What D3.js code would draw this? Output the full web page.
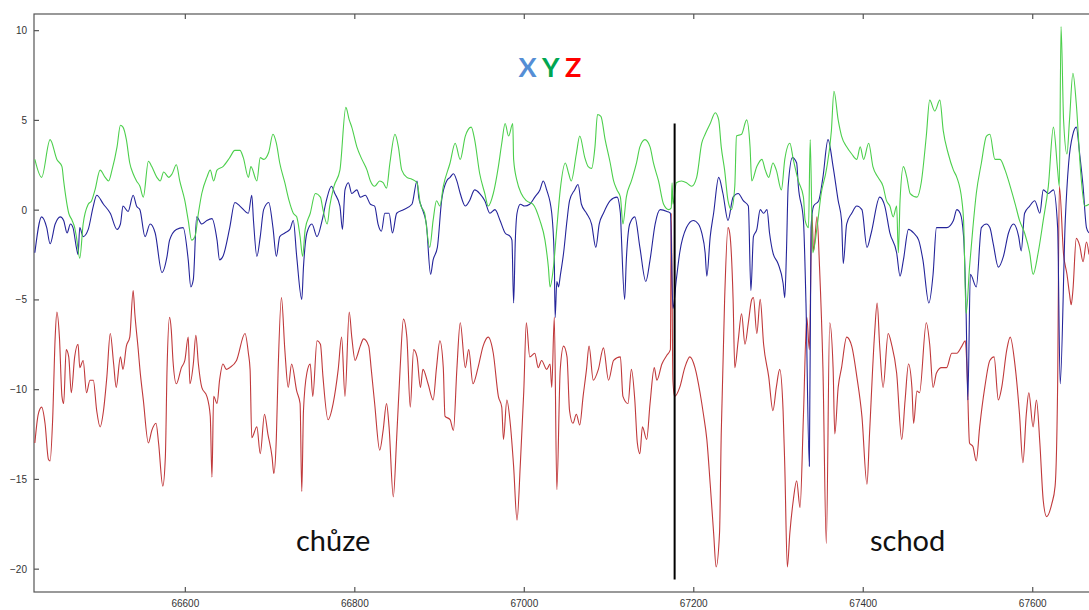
<!DOCTYPE html>
<html>
<head>
<meta charset="utf-8">
<script src="https://cdn.jsdelivr.net/npm/d3@7"></script>
<style>
  body { margin: 0; background: #fff; }
  svg { display: block; }
</style>
</head>
<body>
<div id="chart"></div>
<script>
// accelerometer samples [time, value]
var seriesY = [
  [66423,2.8],[66431,1.8],[66441,3.9],[66449,2.8],[66455,2.4],[66457,1.6],[66463,-0.2],[66467,-0.6],[66470,-1.0],[66472,-1.5],[66476,-2.7],[66480,-0.8],[66486,0.3],[66490,0.5],[66494,1.1],[66500,2.2],[66506,1.8],[66510,1.6],[66514,2.2],[66520,3.5],[66524,4.7],[66527,4.6],[66531,3.9],[66535,2.6],[66539,2.0],[66543,1.6],[66547,1.3],[66551,0.7],[66557,2.7],[66561,2.4],[66567,1.8],[66571,1.6],[66575,2.1],[66581,1.8],[66585,2.0],[66590,2.5],[66594,1.6],[66600,0.5],[66604,-0.6],[66608,-1.7],[66612,-1.5],[66616,-0.2],[66620,0.9],[66626,1.8],[66630,2.2],[66634,1.6],[66638,2.2],[66645,2.4],[66653,2.9],[66659,3.3],[66665,3.3],[66669,2.9],[66675,1.8],[66678,2.4],[66685,1.6],[66689,2.9],[66693,2.8],[66699,3.2],[66704,4.2],[66708,3.7],[66712,2.6],[66718,1.5],[66723,0.5],[66728,-0.2],[66732,-0.4],[66736,-1.5],[66739,-2.6],[66742,-1.1],[66748,-0.2],[66754,0.9],[66760,0.7],[66763,0.0],[66768,-0.8],[66771,0.2],[66776,1.3],[66783,2.2],[66790,5.7],[66794,5.0],[66797,4.6],[66803,3.5],[66809,2.8],
  [66815,2.2],[66819,1.6],[66824,1.3],[66830,1.6],[66834,1.5],[66838,1.2],[66842,2.6],[66848,4.2],[66852,3.5],[66856,2.2],[66862,1.8],[66868,1.7],[66874,1.5],[66878,0.3],[66883,-0.2],[66889,-2.1],[66893,-0.6],[66897,0.5],[66901,0.2],[66905,1.3],[66913,2.6],[66919,3.7],[66925,2.8],[66931,4.1],[66938,4.6],[66942,3.9],[66948,2.0],[66954,0.9],[66958,0.2],[66964,0.9],[66970,2.4],[66974,3.7],[66978,4.8],[66982,4.1],[66987,4.8],[66988,2.8],[66992,1.6],[66997,0.9],[67003,0.5],[67011,0.3],[67019,-0.6],[67025,-1.7],[67029,-3.2],[67031,-4.3],[67035,-3.2],[67039,-1.0],[67043,1.1],[67049,2.6],[67053,2.0],[67056,1.6],[67062,3.1],[67066,4.1],[67072,2.9],[67076,2.4],[67080,2.3],[67084,3.5],[67087,5.3],[67091,5.2],[67096,3.9],[67102,2.6],[67106,1.6],[67110,1.1],[67114,0.7],[67117,-0.8],[67121,0.7],[67127,1.6],[67133,2.6],[67137,3.5],[67143,3.9],[67149,3.5],[67153,2.6],[67159,1.6],[67165,0.3],[67171,0.0],[67174,0.1],[67175,1.5],[67176,0.3],[67180,1.5],[67186,1.6],[67192,1.5],[67198,1.3],[67204,1.8],[67210,3.7],[67214,4.2],[67220,4.8],[67226,5.4],[67230,5.0],[67233,3.5],[67237,2.2],[67241,0.5],[67245,0.0],[67249,1.3],[67251,4.1],[67257,4.2],[67263,5.0],[67267,3.5],[67269,1.6],[67275,2.4],[67281,2.8],[67285,2.2],[67289,1.8],[67294,2.6],[67298,2.2],[67304,1.1],[67308,2.8],[67314,3.7],[67318,2.8],[67324,1.6],[67330,0.7],[67332,-0.6],[67336,-1.0],[67338,3.9],[67341,-2.4],[67346,-1.0],[67351,0.9],[67357,2.2],[67363,4.4],[67366,6.6],[67371,5.0],[67375,4.1],[67381,3.5],[67387,3.1],[67393,2.8],[67397,3.5],[67401,2.8],[67407,3.7],[67412,2.4],[67418,1.8],[67424,1.3],[67428,0.5],[67432,0.2],[67436,-0.4],[67440,0.2],[67442,-2.4],[67444,0.5],[67448,2.4],[67452,1.8],[67456,0.9],[67464,0.7],[67469,1.5],[67475,4.1],[67479,6.1],[67485,5.5],[67491,6.1],[67495,4.4],[67501,3.1],[67507,2.2],[67511,1.8],[67517,0.5],[67519,-0.6],[67522,-5.8],[67526,-3.2],[67530,-1.0],[67534,0.9],[67540,2.6],[67546,4.1],[67550,4.2],[67556,2.8],[67562,2.8],[67568,2.2],[67574,1.3],[67580,0.3],[67585,-0.6],[67591,-1.3],[67597,-2.4],[67601,-3.6],[67607,-2.4],[67613,-0.6],[67619,1.3],[67625,4.6],[67630,2.2],[67632,1.3],[67634,10.2],[67637,5.0],[67641,3.1],[67644,5.0],[67648,7.6],[67652,5.9],[67657,2.2],[67662,0.2],[67667,0.3]
];

var seriesX = [
  [66423,-2.4],[66431,-0.4],[66437,-1.0],[66441,-1.9],[66447,-0.8],[66453,-0.4],[66457,-0.6],[66461,-1.3],[66465,-0.8],[66468,-1.0],[66472,-2.1],[66474,-2.5],[66476,-1.0],[66480,-1.5],[66486,-1.1],[66492,0.2],[66496,0.8],[66504,0.3],[66512,-0.2],[66520,-1.1],[66524,-0.8],[66527,0.2],[66533,-0.1],[66539,0.8],[66543,0.2],[66547,0.0],[66553,-1.5],[66559,-0.8],[66565,-1.3],[66573,-3.5],[66579,-2.6],[66582,-1.7],[66590,-1.1],[66598,-1.0],[66604,-2.8],[66607,-4.3],[66610,-3.9],[66614,-0.4],[66620,-0.8],[66626,-0.6],[66632,-0.5],[66638,-1.7],[66641,-2.8],[66645,-2.6],[66653,-1.0],[66659,0.4],[66665,0.2],[66675,-0.2],[66679,0.8],[66681,-0.6],[66685,-2.6],[66689,-1.5],[66693,0.0],[66699,0.4],[66704,-1.0],[66708,-2.6],[66712,-1.5],[66718,-1.3],[66724,-1.1],[66728,-0.6],[66732,-2.6],[66738,-5.0],[66740,-3.2],[66744,-1.3],[66750,-0.8],[66756,-1.5],[66762,-0.6],[66767,0.5],[66773,1.3],[66777,0.9],[66783,0.2],[66786,-1.1],[66789,1.1],[66793,1.5],[66797,0.9],[66803,1.1],
  [66807,0.7],[66813,0.8],[66819,0.3],[66824,0.2],[66828,-0.8],[66832,-1.2],[66836,-0.2],[66841,-0.2],[66845,-1.3],[66850,-0.2],[66858,0.0],[66868,0.3],[66874,1.6],[66876,0.7],[66879,0.2],[66885,-0.8],[66890,-3.6],[66893,-2.8],[66898,-2.1],[66903,0.5],[66909,1.6],[66913,1.8],[66917,2.0],[66921,1.6],[66925,0.9],[66931,0.2],[66936,0.5],[66942,1.1],[66948,0.9],[66954,0.5],[66960,-0.2],[66966,0.0],[66972,-0.6],[66978,-1.3],[66984,-1.5],[66986,-1.7],[66988,-5.2],[66990,-1.7],[66992,-0.2],[66996,0.3],[67001,0.2],[67007,0.3],[67013,0.7],[67019,1.1],[67023,1.6],[67027,1.1],[67033,-0.2],[67036,-2.8],[67037,-6.0],[67039,-4.0],[67041,-4.3],[67043,-3.7],[67047,-2.4],[67051,-0.6],[67054,0.5],[67060,1.1],[67064,1.4],[67068,0.3],[67074,-0.2],[67080,-0.8],[67085,-2.1],[67089,-0.8],[67094,-0.2],[67102,0.5],[67110,0.7],[67114,-0.2],[67115,-1.3],[67119,-5.0],[67121,-2.8],[67125,-0.8],[67131,-0.4],[67137,-2.1],[67144,-4.0],[67149,-2.8],[67155,-0.8],[67161,0.0],[67169,-0.1],[67173,-0.2],[67176,-5.5],[67180,-3.9],[67184,-2.4],[67192,-1.0],[67200,-0.6],[67206,-0.8],[67210,-1.3],[67214,-2.4],[67216,-3.7],[67220,-1.5],[67224,-0.2],[67230,1.8],[67235,0.9],[67241,-0.6],[67247,0.7],[67253,0.9],[67259,0.5],[67265,0.2],[67268,-4.5],[67271,-1.5],[67275,-1.1],[67279,0.0],[67283,-0.2],[67287,0.0],[67290,-1.3],[67294,-2.4],[67300,-3.0],[67306,-4.1],[67308,-4.9],[67310,-2.3],[67312,1.3],[67317,2.9],[67322,2.6],[67324,1.3],[67330,-0.6],[67333,-5.2],[67337,-14.3],[67339,-1.0],[67342,0.2],[67348,0.5],[67353,1.8],[67359,3.9],[67365,2.4],[67371,0.5],[67375,-0.6],[67377,-3.0],[67381,-0.8],[67387,-0.2],[67393,0.2],[67399,0.0],[67405,-2.1],[67410,-1.3],[67420,0.7],[67426,0.2],[67432,-1.3],[67440,-2.4],[67444,-3.7],[67448,-2.8],[67454,-1.1],[67460,-1.3],[67466,-1.7],[67471,-2.8],[67478,-5.2],[67483,-3.6],[67487,-1.0],[67493,-1.0],[67499,-1.0],[67507,-0.6],[67511,0.0],[67515,-0.2],[67519,-1.5],[67522,-5.8],[67524,-10.6],[67527,-3.6],[67534,-4.3],[67540,-1.0],[67546,-0.8],[67550,-1.0],[67554,-1.9],[67560,-3.2],[67566,-2.6],[67572,-1.3],[67578,-0.8],[67584,-1.5],[67587,-2.3],[67591,-0.2],[67597,0.2],[67603,0.5],[67609,-0.2],[67613,1.1],[67619,0.9],[67625,1.1],[67630,-1.0],[67633,-9.7],[67639,-0.6],[67643,2.6],[67648,4.2],[67652,4.6],[67656,3.1],[67660,1.3],[67664,-1.0],[67667,-1.3]
];

var seriesZ = [
  [66423,-13.0],[66427,-11.4],[66431,-11.0],[66435,-11.9],[66439,-13.9],[66441,-14.0],[66444,-11.7],[66447,-7.1],[66449,-5.7],[66452,-7.1],[66455,-10.4],[66457,-10.8],[66460,-7.8],[66463,-8.2],[66466,-10.2],[66470,-8.2],[66474,-7.5],[66476,-8.8],[66480,-8.4],[66484,-10.2],[66488,-9.5],[66492,-9.5],[66496,-11.2],[66500,-12.1],[66504,-11.2],[66508,-9.3],[66512,-6.9],[66516,-8.6],[66519,-9.9],[66524,-8.2],[66527,-8.9],[66531,-7.6],[66535,-7.1],[66539,-4.5],[66541,-5.8],[66545,-7.8],[66547,-8.9],[66551,-10.6],[66557,-13.0],[66561,-12.3],[66566,-11.9],[66569,-13.0],[66574,-15.4],[66577,-13.8],[66579,-8.9],[66582,-6.0],[66584,-6.7],[66586,-8.4],[66590,-9.7],[66596,-8.8],[66600,-8.4],[66604,-7.1],[66606,-9.7],[66610,-8.6],[66613,-7.0],[66616,-8.6],[66620,-9.9],[66626,-10.4],[66630,-11.5],[66632,-14.9],[66634,-10.4],[66638,-10.8],[66641,-9.5],[66645,-8.6],[66649,-8.9],[66653,-8.8],[66661,-8.4],[66671,-6.9],[66675,-8.0],[66677,-8.9],[66679,-12.7],[66685,-12.1],[66689,-13.6],[66694,-11.4],[66698,-12.5],[66703,-13.8],[66705,-14.7],[66708,-12.7],[66710,-9.1],[66714,-4.9],[66718,-7.8],[66722,-9.9],[66726,-8.6],[66732,-10.1],[66736,-10.8],[66738,-15.7],[66740,-11.2],[66744,-9.1],[66748,-8.6],[66751,-10.4],[66756,-7.3],[66760,-7.5],[66763,-9.3],[66769,-11.7],[66775,-10.8],[66781,-8.9],[66785,-7.1],[66789,-10.4],[66794,-5.7],[66797,-7.1],[66801,-8.4],[66803,-8.2],[66807,-7.6],
  [66811,-7.2],[66817,-7.6],[66820,-8.9],[66824,-10.8],[66830,-13.4],[66834,-12.3],[66838,-10.8],[66841,-12.1],[66846,-16.0],[66850,-12.7],[66854,-8.9],[66858,-6.1],[66862,-7.1],[66866,-11.0],[66870,-7.8],[66874,-8.2],[66878,-9.9],[66881,-8.9],[66887,-9.7],[66893,-10.6],[66897,-8.8],[66901,-7.3],[66905,-8.8],[66907,-11.5],[66913,-11.7],[66917,-12.3],[66921,-8.9],[66925,-6.3],[66931,-8.8],[66935,-7.8],[66940,-9.7],[66946,-8.8],[66952,-7.6],[66958,-7.1],[66964,-8.0],[66970,-10.4],[66974,-11.0],[66976,-12.8],[66980,-10.6],[66984,-11.9],[66988,-14.3],[66992,-17.3],[66996,-14.1],[67000,-10.1],[67003,-6.3],[67007,-8.2],[67013,-8.0],[67017,-8.8],[67021,-8.4],[67027,-8.9],[67031,-8.6],[67033,-9.9],[67036,-6.0],[67039,-15.6],[67043,-8.9],[67047,-7.6],[67051,-8.2],[67054,-11.2],[67058,-11.9],[67062,-11.4],[67066,-12.0],[67070,-10.4],[67074,-8.9],[67077,-7.6],[67082,-9.5],[67088,-8.9],[67094,-7.7],[67100,-9.5],[67106,-8.4],[67114,-8.2],[67117,-10.4],[67123,-10.8],[67127,-8.9],[67131,-10.6],[67134,-13.0],[67137,-13.6],[67140,-12.1],[67145,-12.8],[67149,-10.8],[67154,-8.8],[67157,-9.5],[67163,-8.6],[67169,-8.1],[67173,-7.8],[67174,-0.2],[67176,-9.5],[67178,-10.4],[67184,-9.9],[67190,-8.8],[67196,-8.2],[67202,-8.8],[67208,-10.2],[67212,-11.4],[67216,-12.8],[67220,-15.3],[67224,-18.0],[67227,-19.9],[67231,-18.0],[67233,-12.5],[67237,-5.0],[67241,-1.0],[67243,-1.3],[67247,-5.0],[67249,-8.8],[67253,-7.3],[67257,-5.8],[67261,-7.5],[67265,-6.3],[67269,-5.0],[67271,-4.9],[67275,-6.9],[67279,-5.0],[67283,-7.5],[67289,-9.3],[67294,-11.2],[67298,-9.9],[67302,-8.9],[67306,-11.2],[67308,-14.3],[67311,-19.9],[67314,-18.0],[67318,-16.2],[67322,-15.1],[67326,-16.6],[67330,-11.5],[67334,-6.0],[67337,-7.8],[67340,-0.3],[67342,-2.3],[67346,-0.4],[67349,-3.2],[67353,-8.8],[67357,-18.6],[67361,-6.3],[67365,-8.8],[67367,-12.5],[67371,-9.9],[67375,-8.8],[67381,-7.1],[67387,-7.6],[67393,-9.3],[67399,-11.5],[67405,-15.3],[67408,-12.5],[67414,-6.9],[67417,-5.2],[67420,-7.6],[67424,-9.9],[67430,-6.9],[67434,-7.5],[67440,-9.1],[67446,-12.8],[67450,-10.6],[67454,-8.6],[67458,-9.9],[67460,-11.9],[67464,-10.1],[67467,-10.2],[67475,-6.3],[67479,-7.5],[67483,-9.9],[67487,-9.1],[67493,-8.8],[67499,-8.8],[67505,-8.0],[67511,-8.0],[67517,-7.6],[67521,-7.3],[67523,-8.8],[67526,-13.0],[67530,-13.2],[67534,-14.0],[67538,-12.1],[67544,-9.9],[67550,-8.4],[67555,-8.2],[67560,-10.6],[67564,-9.9],[67570,-7.8],[67574,-7.1],[67580,-8.8],[67585,-11.4],[67589,-14.1],[67593,-11.4],[67596,-10.2],[67601,-12.1],[67605,-10.6],[67609,-13.0],[67613,-16.2],[67617,-17.1],[67623,-16.4],[67627,-15.4],[67630,-9.7],[67632,1.3],[67637,-2.5],[67641,-3.6],[67644,-4.7],[67646,-5.3],[67648,-4.5],[67652,-1.6],[67656,-2.0],[67660,-2.9],[67664,-1.8],[67667,-2.5]
];

var xTicks = [66600, 66800, 67000, 67200, 67400, 67600];
var yTicks = [-20, -15, -10, -5, 0, 5, 10];
var splitAt = 67178;   // boundary between the two activities
var labels = [
  { text: "chůze", t: 66775 },
  { text: "schod", t: 67453 }
];
var legend = [
  { text: "X", color: "#558ed5" },
  { text: "Y", color: "#00a651" },
  { text: "Z", color: "#ff0000" }
];

var W = 1089, H = 610;
var mLeft = 34, mRight = 1089, mTop = 14, mBottom = 592;

var x = d3.scaleLinear().domain([66422, 67667]).range([mLeft, mRight]);
var y = d3.scaleLinear().domain([-21.3, 10.9]).range([mBottom, mTop]);

var svg = d3.select("#chart").append("svg")
  .attr("width", W)
  .attr("height", H);

svg.append("defs").append("clipPath").attr("id", "plot")
  .append("rect")
  .attr("x", mLeft).attr("y", mTop)
  .attr("width", mRight - mLeft).attr("height", mBottom - mTop);

// frame
svg.append("rect")
  .attr("x", mLeft).attr("y", mTop)
  .attr("width", mRight - mLeft + 10).attr("height", mBottom - mTop)
  .attr("fill", "none")
  .attr("stroke", "#555")
  .attr("stroke-width", 1.2);

// axes, ticks pointing inward
var gx = svg.append("g")
  .attr("transform", "translate(0," + mBottom + ")")
  .call(d3.axisBottom(x).tickValues(xTicks).tickSize(-5).tickPadding(8).tickFormat(d3.format("d")));
var gxTop = svg.append("g")
  .attr("transform", "translate(0," + mTop + ")")
  .call(d3.axisTop(x).tickValues(xTicks).tickSize(-5).tickFormat(""));
var gy = svg.append("g")
  .attr("transform", "translate(" + mLeft + ",0)")
  .call(d3.axisLeft(y).tickValues(yTicks).tickSize(-5).tickPadding(7).tickFormat(d3.format("d")));

[gx, gxTop, gy].forEach(function (g) {
  g.select(".domain").remove();
  g.selectAll(".tick line").attr("stroke", "#555").attr("stroke-width", 1.2);
  g.selectAll(".tick text")
    .attr("fill", "#333")
    .style("font-family", "Liberation Sans, Arial, sans-serif")
    .style("font-size", "10px");
});
gy.selectAll(".tick text").attr("dy", "0.35em");

var line = d3.line()
  .curve(d3.curveMonotoneX)
  .x(function (d) { return x(d[0]); })
  .y(function (d) { return y(d[1]); });

var plot = svg.append("g").attr("clip-path", "url(#plot)");

var series = [
  { data: seriesZ, color: "#c0393b" },
  { data: seriesX, color: "#24249a" },
  { data: seriesY, color: "#4ccf4c" }
];

plot.selectAll(".series")
  .data(series)
  .enter()
  .append("path")
  .attr("class", "series")
  .attr("d", function (s) { return line(s.data); })
  .attr("fill", "none")
  .attr("stroke", function (s) { return s.color; })
  .attr("stroke-width", 1.1)
  .attr("stroke-linejoin", "round");

// divider between walking and stairs
svg.append("line")
  .attr("x1", x(splitAt)).attr("x2", x(splitAt))
  .attr("y1", y(4.8)).attr("y2", y(-20.6))
  .attr("stroke", "#000")
  .attr("stroke-width", 2);

svg.selectAll(".label")
  .data(labels)
  .enter()
  .append("text")
  .attr("class", "label")
  .attr("x", function (d) { return x(d.t); })
  .attr("y", y(-18.6))
  .attr("text-anchor", "middle")
  .attr("dominant-baseline", "middle")
  .style("font-family", "Lato, 'Open Sans', sans-serif")
  .style("font-size", "29px")
  .attr("fill", "#111")
  .text(function (d) { return d.text; });

var leg = svg.append("text")
  .attr("x", 550)
  .attr("y", 70)
  .attr("text-anchor", "middle")
  .attr("dominant-baseline", "middle")
  .style("font-family", "Lato, 'Open Sans', sans-serif")
  .style("font-size", "27px")
  .style("font-weight", "bold");
legend.forEach(function (d, i) {
  leg.append("tspan")
    .attr("fill", d.color)
    .text((i ? " " : "") + d.text);
});
</script>
</body>
</html>
